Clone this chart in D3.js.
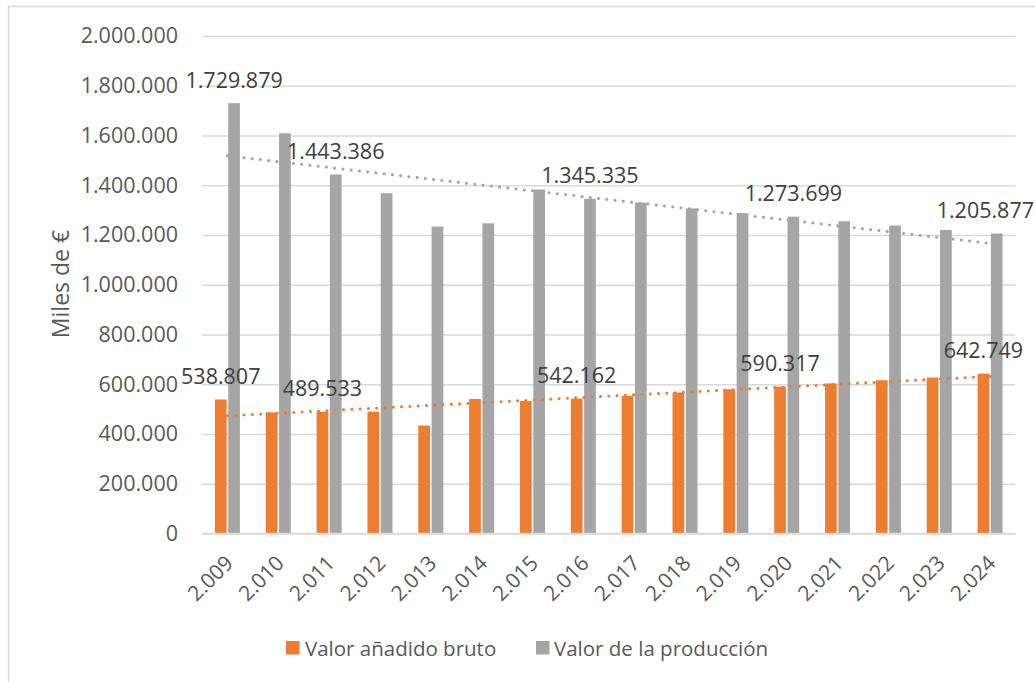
<!DOCTYPE html>
<html>
<head>
<meta charset="utf-8">
<script src="https://cdn.jsdelivr.net/npm/d3@7"></script>
<style>
  html, body { margin: 0; padding: 0; background: #fff; }
  svg text { font-family: "Open Sans", "Liberation Sans", sans-serif; fill: #595959; }
</style>
</head>
<body>
<svg id="chart" width="1035" height="682"></svg>
<script>
const years = ["2.009","2.010","2.011","2.012","2.013","2.014","2.015","2.016","2.017","2.018","2.019","2.020","2.021","2.022","2.023","2.024"];
const valorAnadido = [538807, 487000, 489533, 490000, 434000, 541000, 533000, 542162, 553000, 567000, 580000, 590317, 603000, 616000, 627000, 642749];
const valorProduccion = [1729879, 1609000, 1443386, 1368000, 1234000, 1247000, 1383000, 1345335, 1330000, 1307000, 1288000, 1273699, 1255000, 1238000, 1220000, 1205877];
const yTicks = [0, 200000, 400000, 600000, 800000, 1000000, 1200000, 1400000, 1600000, 1800000, 2000000];
const labelledYears = ["2.009","2.011","2.016","2.020","2.024"];
const labelledYearsVAB = ["2.009","2.011","2.016","2.020","2.024"];
const seriesNames = ["Valor añadido bruto", "Valor de la producción"];
const seriesColors = ["#ED7D31", "#A5A5A5"];

const fmt = v => d3.format(",")(v).replace(/,/g, ".");

const svg = d3.select("#chart");
const W = 1035, H = 682;
const plot = { left: 202, right: 1015.5, top: 36, bottom: 533.5 };

// chart frame
svg.append("rect").attr("x", 8.5).attr("y", 6.5).attr("width", 1040).attr("height", 700)
  .attr("fill", "#fff").attr("stroke", "#d9d9d9").attr("stroke-width", 1.5);

const x = d3.scaleBand().domain(years).range([plot.left, plot.right]).padding(0);
const y = d3.scaleLinear().domain([0, 2000000]).range([plot.bottom, plot.top]);
const groupW = x.bandwidth() * 0.492;
const x1 = d3.scaleBand().domain([0, 1]).range([0, groupW]).paddingInner(0.12);

// gridlines
const yAxis = d3.axisLeft(y).tickValues(yTicks).tickSize(-(plot.right - plot.left)).tickFormat(fmt).tickPadding(24);
const gy = svg.append("g").attr("transform", `translate(${plot.left},0)`).call(yAxis);
gy.select(".domain").remove();
gy.selectAll(".tick line").attr("stroke", "#d9d9d9").attr("stroke-width", 1.5);
gy.selectAll(".tick text").attr("font-size", 21.5).attr("fill", "#595959")
  .style("font-family", "'Open Sans', sans-serif");

// bars
const series = [valorAnadido, valorProduccion];
series.forEach((vals, si) => {
  svg.append("g").selectAll("rect").data(years).join("rect")
    .attr("x", d => x(d) + x.bandwidth() / 2 - groupW / 2 + x1(si))
    .attr("width", x1.bandwidth())
    .attr("y", (d, i) => y(vals[i]))
    .attr("height", (d, i) => y(0) - y(vals[i]))
    .attr("fill", seriesColors[si]);
});

// x axis line
const xAxis = d3.axisBottom(x).tickSize(0).tickPadding(0);
const gx = svg.append("g").attr("transform", `translate(0,${plot.bottom})`).call(xAxis);
gx.select(".domain").attr("stroke", "#d9d9d9").attr("stroke-width", 1.5)
  .attr("d", `M${plot.left},0H${plot.right}`);
gx.selectAll(".tick text")
  .attr("font-size", 21).attr("fill", "#595959")
  .attr("text-anchor", "end")
  .attr("dy", 0).attr("y", 0)
  .attr("transform", "translate(7,31) rotate(-45)");

// trendlines (linear least squares, as in the spreadsheet)
function linreg(vals) {
  const n = vals.length, xs = d3.range(n);
  const mx = d3.mean(xs), my = d3.mean(vals);
  const sxy = d3.sum(xs, i => (i - mx) * (vals[i] - my));
  const sxx = d3.sum(xs, i => (i - mx) * (i - mx));
  const b = sxy / sxx, a = my - b * mx;
  return i => a + b * i;
}
series.forEach((vals, si) => {
  const f = linreg(vals);
  const n = vals.length;
  svg.append("line")
    .attr("x1", x(years[0]) + x.bandwidth() / 2).attr("y1", y(f(0)))
    .attr("x2", x(years[n - 1]) + x.bandwidth() / 2).attr("y2", y(f(n - 1)))
    .attr("stroke", seriesColors[si]).attr("stroke-width", 3)
    .attr("stroke-linecap", "round").attr("stroke-dasharray", "0.1 8.2");
});

// data labels
function addLabels(vals, si, which) {
  const g = svg.append("g");
  years.forEach((yr, i) => {
    if (!which.includes(yr)) return;
    const cx = x(yr) + x.bandwidth() / 2 - groupW / 2 + x1(si) + x1.bandwidth() / 2;
    const t = g.append("text").attr("x", cx).attr("y", y(vals[i]) - 24)
      .attr("text-anchor", "middle").attr("dominant-baseline", "central")
      .attr("font-size", 21.5).style("fill", "#404040").text(fmt(vals[i]));
    const bb = t.node().getBBox();
    if (bb.x + bb.width > W - 1) t.attr("x", cx - (bb.x + bb.width - (W - 1)));
  });
}
addLabels(valorAnadido, 0, labelledYearsVAB);
addLabels(valorProduccion, 1, labelledYears);

// y axis title
svg.append("text").attr("transform", "translate(60,284) rotate(-90)")
  .attr("text-anchor", "middle").attr("dominant-baseline", "central")
  .attr("font-size", 23).text("Miles de €");

// legend
const legend = svg.append("g");
const legendItems = [{ x: 286, tx: 305 }, { x: 536, tx: 554 }];
seriesNames.forEach((name, i) => {
  legend.append("rect").attr("x", legendItems[i].x).attr("y", 641).attr("width", 13.5).attr("height", 13.5)
    .attr("fill", seriesColors[i]);
  legend.append("text").attr("x", legendItems[i].tx).attr("y", 648).attr("dominant-baseline", "central")
    .attr("font-size", 20.5).text(name);
});
</script>
</body>
</html>
